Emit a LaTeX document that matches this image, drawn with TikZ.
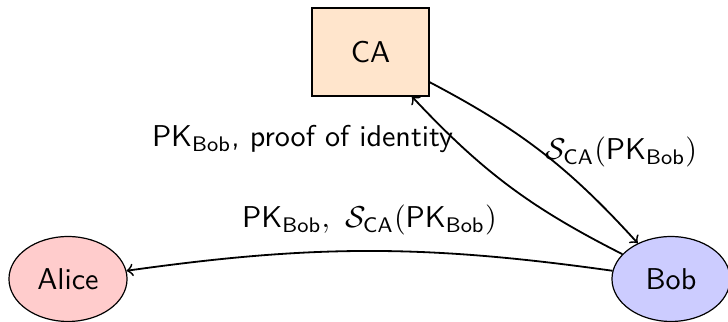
\documentclass[tikz,border=0pt]{standalone}
\usetikzlibrary{shapes.geometric}
\begin{document}
\begin{tikzpicture}[x=0.332pt,y=-0.332pt,
  every node/.style={font=\sffamily},
  cabox/.style={draw, fill=orange!20, minimum width=38.8pt, minimum height=29.2pt, inner sep=0pt},
  party/.style={ellipse, draw, minimum width=39.2pt, minimum height=28.2pt, inner sep=0pt},
  msg/.style={->, semithick}]
\useasboundingbox (0,0) rectangle (728,322);
\node[cabox] (CA) at (370.5,52) {CA};
\node[party, fill=red!20] (Alice) at (68,279) {Alice};
\node[party, fill=blue!20] (Bob) at (671,279) {Bob};
\draw[msg] (CA) to[bend left=10] node[pos=0.5, anchor=west, xshift=-2.5pt] (l1) {$\mathcal{S}_{\mathsf{CA}}(\mathsf{PK}_{\mathsf{Bob}})$} (Bob);
\draw[msg] (Bob) to[bend left=10] node[pos=0.79, anchor=east, inner sep=0pt] (l2) {$\mathsf{PK}_{\mathsf{Bob}}$, proof of identity} (CA);
\draw[msg] (Bob) to[bend right=8] node[above, yshift=1.5pt] (l3) {$\mathsf{PK}_{\mathsf{Bob}},\ \mathcal{S}_{\mathsf{CA}}(\mathsf{PK}_{\mathsf{Bob}})$} (Alice);
\end{tikzpicture}
\end{document}
